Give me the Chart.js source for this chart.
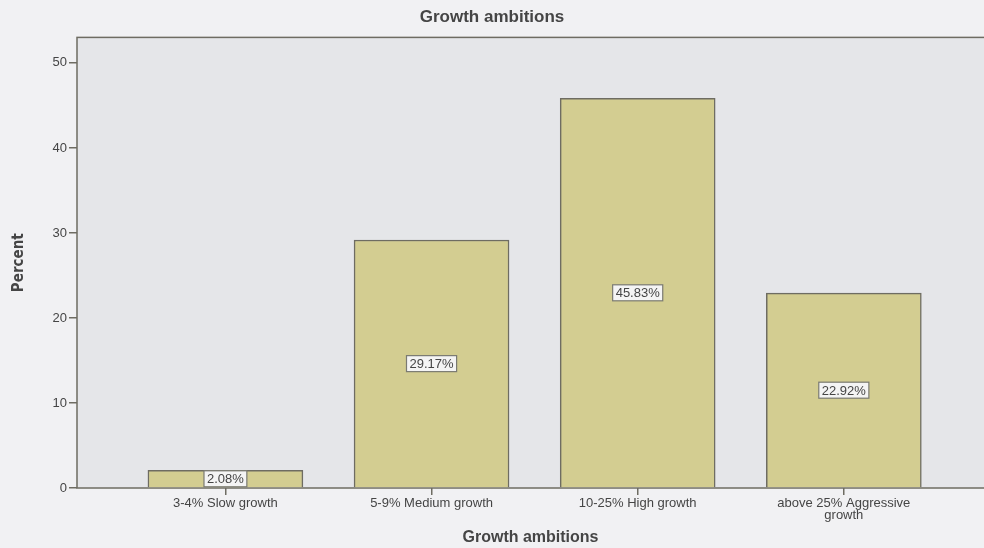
<!DOCTYPE html>
<html>
<head>
<meta charset="utf-8">
<script src="https://cdn.jsdelivr.net/npm/chart.js@4/dist/chart.umd.min.js"></script>
<style>
  html, body { margin: 0; padding: 0; background: #f1f1f3; }
  #wrap { width: 984px; height: 548px; }
</style>
</head>
<body>
<div id="wrap"><canvas id="chart" width="984" height="548"></canvas></div>
<script>
// chart data
const categories = ["3-4% Slow growth", "5-9% Medium growth", "10-25% High growth", ["above 25% Aggressive", "growth"]];
const percents = [2.08, 29.17, 45.83, 22.92];
const yTicks = [0, 10, 20, 30, 40, 50];

const barFill = "#d3cd91";
const lineColor = "#6e6c62";
const textColor = "#454545";

// frame round the plot area and grey background
const plotFrame = {
  id: "plotFrame",
  beforeDraw(chart) {
    const { ctx, chartArea: a } = chart;
    ctx.save();
    ctx.fillStyle = "#e5e6e9";
    ctx.fillRect(a.left, a.top, a.right - a.left + 5, a.bottom - a.top);
    ctx.strokeStyle = lineColor;
    ctx.lineWidth = 1.5;
    ctx.strokeRect(a.left, a.top, a.right - a.left + 5, a.bottom - a.top);
    ctx.restore();
  },
};

// the boxed percent label in the middle of each bar
const boxLabels = {
  id: "boxLabels",
  afterDatasetsDraw(chart) {
    const { ctx } = chart;
    const meta = chart.getDatasetMeta(0);
    ctx.save();
    ctx.font = "13px 'Liberation Sans', Arial, sans-serif";
    ctx.textAlign = "center";
    ctx.textBaseline = "middle";
    meta.data.forEach((bar, i) => {
      const txt = percents[i].toFixed(2) + "%";
      const c = bar.getCenterPoint();
      const w = ctx.measureText(txt).width + 6;
      const h = 16;
      ctx.fillStyle = "#f4f4f4";
      ctx.fillRect(c.x - w / 2, c.y - h / 2, w, h);
      ctx.strokeStyle = "#7a7a72";
      ctx.lineWidth = 1.2;
      ctx.strokeRect(c.x - w / 2, c.y - h / 2, w, h);
      ctx.fillStyle = textColor;
      ctx.fillText(txt, c.x, c.y + 1);
    });
    ctx.restore();
  },
};

const ctx = document.getElementById("chart");
const chart = new Chart(ctx, {
  type: "bar",
  data: {
    datasets: [
      {
        data: percents.map((v, i) => ({ x: i, y: v })),
        backgroundColor: barFill,
        borderColor: lineColor,
        borderWidth: 1.5,
        barThickness: 155,
      },
    ],
  },
  plugins: [plotFrame, boxLabels],
  options: {
    responsive: false,
    animation: false,
    layout: { padding: { left: 0, right: 0, top: 0, bottom: 0 } },
    plugins: {
      legend: { display: false },
      tooltip: { enabled: false },
      title: {
        display: true,
        text: "Growth ambitions",
        color: textColor,
        font: { family: "'Liberation Sans', Arial, sans-serif", size: 17, weight: "bold" },
        padding: { top: 7, bottom: 10 },
      },
    },
    scales: {
      x: {
        type: "linear",
        offset: false,
        min: -0.72,
        max: 3.68,
        afterBuildTicks: (scale) => {
          scale.ticks = categories.map((c, i) => ({ value: i }));
        },
        afterFit: (scale) => {
          scale.height = 60;
        },
        ticks: {
          autoSkip: false,
          maxRotation: 0,
          padding: 2,
          color: textColor,
          font: { family: "'Liberation Sans', Arial, sans-serif", size: 13, lineHeight: 0.95 },
          callback: (v) => categories[v],
        },
        grid: { offset: false, drawOnChartArea: false, drawTicks: true, tickLength: 7, color: lineColor, lineWidth: 1.5 },
        border: { display: false },
        title: {
          display: true,
          text: "Growth ambitions",
          color: textColor,
          font: { family: "'Liberation Sans', Arial, sans-serif", size: 16, weight: "bold" },
          padding: { top: 0, bottom: 1 },
        },
      },
      y: {
        min: 0,
        max: 53,
        afterBuildTicks: (scale) => {
          scale.ticks = yTicks.map((v) => ({ value: v }));
        },
        afterFit: (scale) => {
          scale.width = 77;
        },
        ticks: {
          padding: 2,
          color: textColor,
          font: { family: "'Liberation Sans', Arial, sans-serif", size: 13 },
        },
        grid: { drawOnChartArea: false, drawTicks: true, tickLength: 8, color: lineColor, lineWidth: 1.5 },
        border: { display: false },
        title: {
          display: true,
          text: "Percent",
          color: textColor,
          font: { family: "'DejaVu Sans Condensed', 'DejaVu Sans', sans-serif", size: 15, weight: "bold" },
          padding: { top: 10, bottom: 4 },
        },
      },
    },
  },
});
</script>
</body>
</html>
